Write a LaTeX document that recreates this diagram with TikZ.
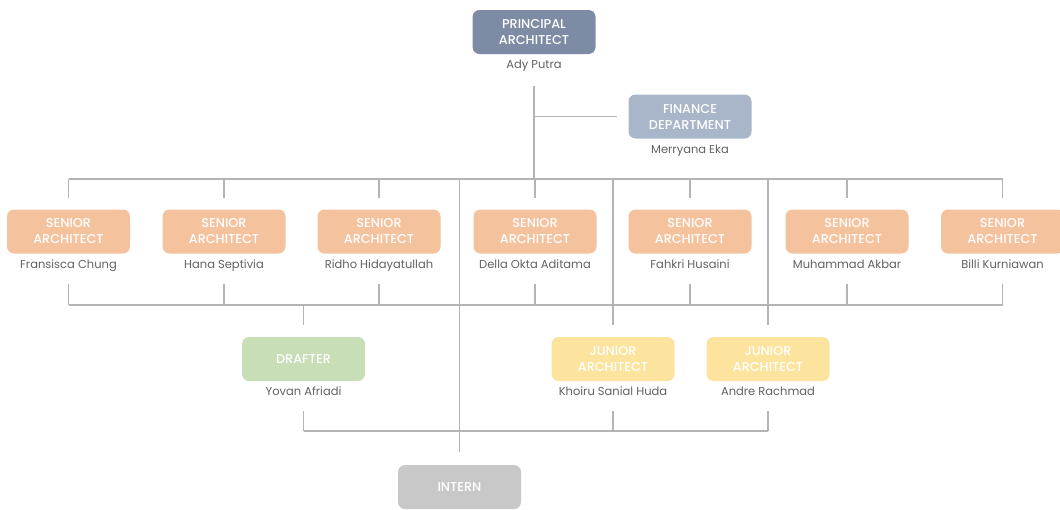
\documentclass[tikz,border=0pt]{standalone}
\usepackage{fontspec}
\setmainfont{Poppins}
\IfFontExistsTF{Poppins-Medium.ttf}{\newfontfamily\titlefont{Poppins-Medium.ttf}}{%
  \IfFontExistsTF{Poppins Medium}{\newfontfamily\titlefont{Poppins Medium}}{%
    \newfontfamily\titlefont{Poppins}[FakeBold=0.8]}}

\definecolor{principalcol}{HTML}{7E8BA4}
\definecolor{financecol}{HTML}{A9B5C8}
\definecolor{seniorcol}{HTML}{F5C29E}
\definecolor{draftercol}{HTML}{C7DEB6}
\definecolor{juniorcol}{HTML}{FCE39E}
\definecolor{interncol}{HTML}{C8C8C8}
\definecolor{namecol}{HTML}{616161}
\definecolor{linecol}{HTML}{B4B4B4}

\tikzset{
  orgbox/.style={rounded corners=7pt, minimum width=123pt, minimum height=44pt,
    inner sep=0pt, align=center, text=white, font=\titlefont\fontsize{12.8}{16}\selectfont},
  principalbox/.style={orgbox, fill=principalcol},
  financebox/.style={orgbox, fill=financecol},
  seniorbox/.style={orgbox, fill=seniorcol},
  drafterbox/.style={orgbox, fill=draftercol},
  juniorbox/.style={orgbox, fill=juniorcol},
  internbox/.style={orgbox, fill=interncol},
  staffname/.style={text=namecol, inner sep=0pt, text height=8.5pt, text depth=3pt,
    font=\fontsize{11.5}{14}\selectfont},
  orgline/.style={draw=linecol, line width=1.2pt},
}

\begin{document}
\begin{tikzpicture}[x=1pt, y=-1pt]
\useasboundingbox (0,0) rectangle (1060,509);
% bus heights
\coordinate (topbus) at (0,179);
\coordinate (midbus) at (0,305);
\coordinate (lowbus) at (0,431);
\coordinate (principalstem) at (534,86);

\node [principalbox] (principal) at (534,32) {PRINCIPAL\\ARCHITECT};
\node [staffname] (principalname) at (534,66) {Ady Putra};
\node [financebox] (finance) at (690,116.5) {FINANCE\\DEPARTMENT};
\node [staffname] (financename) at (690,151) {Merryana Eka};

\node [seniorbox] (senior1) at (68.5,231.5) {SENIOR\\ARCHITECT};
\node [seniorbox] (senior2) at (224,231.5) {SENIOR\\ARCHITECT};
\node [seniorbox] (senior3) at (379,231.5) {SENIOR\\ARCHITECT};
\node [seniorbox] (senior4) at (535,231.5) {SENIOR\\ARCHITECT};
\node [seniorbox] (senior5) at (690,231.5) {SENIOR\\ARCHITECT};
\node [seniorbox] (senior6) at (847,231.5) {SENIOR\\ARCHITECT};
\node [seniorbox] (senior7) at (1002.5,231.5) {SENIOR\\ARCHITECT};
\node [staffname] (seniorname1) at (68.5,266) {Fransisca Chung};
\node [staffname] (seniorname2) at (224,266) {Hana Septivia};
\node [staffname] (seniorname3) at (379,266) {Ridho Hidayatullah};
\node [staffname] (seniorname4) at (535,266) {Della Okta Aditama};
\node [staffname] (seniorname5) at (690,266) {Fahkri Husaini};
\node [staffname] (seniorname6) at (847,266) {Muhammad Akbar};
\node [staffname] (seniorname7) at (1002.5,266) {Billi Kurniawan};

\node [drafterbox] (drafter) at (303.5,359) {DRAFTER};
\node [staffname] (draftername) at (303.5,393) {Yovan Afriadi};
\node [juniorbox] (junior1) at (613,359) {JUNIOR\\ARCHITECT};
\node [juniorbox] (junior2) at (768,359) {JUNIOR\\ARCHITECT};
\node [staffname] (juniorname1) at (613,393) {Khoiru Sanial Huda};
\node [staffname] (juniorname2) at (768,393) {Andre Rachmad};

\node [internbox] (intern) at (459.5,487) {INTERN};

% principal and finance
\draw [orgline] (principalstem) -- (principalstem |- topbus);
\draw [orgline] (principalstem |- finance.west) -- ([xshift=-11pt]finance.west);

% top bus to seniors
\draw [orgline] (senior1.north |- topbus) -- (senior7.north |- topbus);
\draw [orgline] (senior1.north |- topbus) -- ++(0,19);
\draw [orgline] (senior2.north |- topbus) -- ++(0,19);
\draw [orgline] (senior3.north |- topbus) -- ++(0,19);
\draw [orgline] (senior4.north |- topbus) -- ++(0,19);
\draw [orgline] (senior5.north |- topbus) -- ++(0,19);
\draw [orgline] (senior6.north |- topbus) -- ++(0,19);
\draw [orgline] (senior7.north |- topbus) -- ++(0,19);

% seniors to middle bus
\draw [orgline] (seniorname1.south |- midbus) -- (seniorname7.south |- midbus);
\draw [orgline] (seniorname1.south |- midbus) -- ++(0,-21);
\draw [orgline] (seniorname2.south |- midbus) -- ++(0,-21);
\draw [orgline] (seniorname3.south |- midbus) -- ++(0,-21);
\draw [orgline] (seniorname4.south |- midbus) -- ++(0,-21);
\draw [orgline] (seniorname5.south |- midbus) -- ++(0,-21);
\draw [orgline] (seniorname6.south |- midbus) -- ++(0,-21);
\draw [orgline] (seniorname7.south |- midbus) -- ++(0,-21);

% drafter and juniors
\draw [orgline] (drafter.north |- midbus) -- ([yshift=12pt]drafter.north);
\draw [orgline] (junior1.north |- topbus) -- ([yshift=12pt]junior1.north);
\draw [orgline] (junior2.north |- topbus) -- ([yshift=12pt]junior2.north);
\draw [orgline] (intern.north |- topbus) -- ([yshift=13pt]intern.north);

% lower bus
\draw [orgline] (draftername.south |- lowbus) -- (juniorname2.south |- lowbus);
\draw [orgline] (draftername.south |- lowbus) -- ++(0,-20);
\draw [orgline] (juniorname1.south |- lowbus) -- ++(0,-20);
\draw [orgline] (juniorname2.south |- lowbus) -- ++(0,-20);
\end{tikzpicture}
\end{document}
